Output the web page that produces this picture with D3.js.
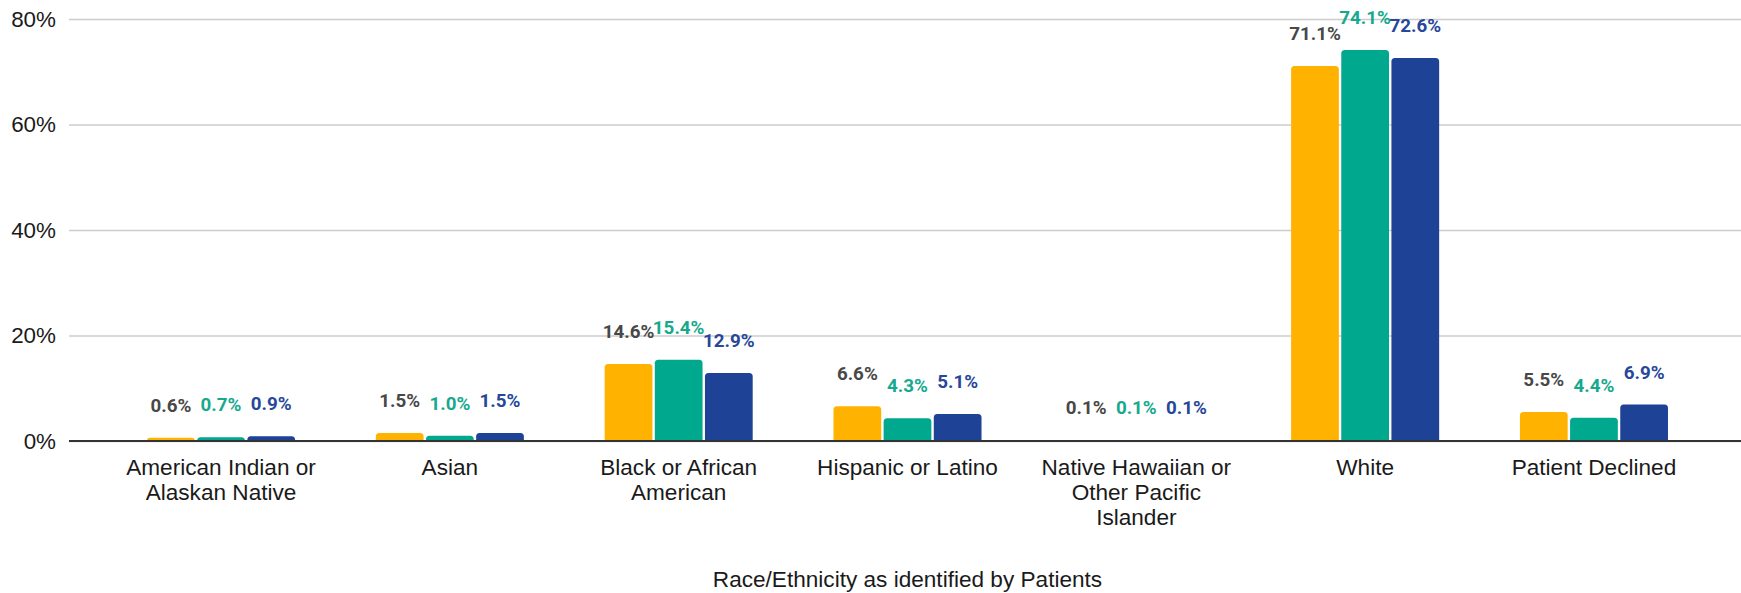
<!DOCTYPE html>
<html>
<head>
<meta charset="utf-8">
<script src="https://cdn.jsdelivr.net/npm/d3@7"></script>
<style>
  html, body { margin: 0; padding: 0; background: #ffffff; }
  svg { display: block; }
</style>
</head>
<body>
<svg id="chart" width="1741" height="593"></svg>
<script>
// Race/ethnicity share of patients, three series per category
const categories = [
  ["American Indian or", "Alaskan Native"],
  ["Asian"],
  ["Black or African", "American"],
  ["Hispanic or Latino"],
  ["Native Hawaiian or", "Other Pacific", "Islander"],
  ["White"],
  ["Patient Declined"]
];
const seriesA = [0.6, 1.5, 14.6, 6.6, 0.1, 71.1, 5.5];
const seriesB = [0.7, 1.0, 15.4, 4.3, 0.1, 74.1, 4.4];
const seriesC = [0.9, 1.5, 12.9, 5.1, 0.1, 72.6, 6.9];
const seriesKeys = ["a", "b", "c"];
const yTicks = [0, 20, 40, 60, 80];
const xAxisTitle = "Race/Ethnicity as identified by Patients";

const barColors = { a: "#ffb200", b: "#00a88e", c: "#1e4396" };
const labelColors = { a: "#484848", b: "#17a98e", c: "#27479a" };

const W = 1741, H = 593;
const plot = { left: 69, right: 1741, top: 19, bottom: 441 };

const svg = d3.select("#chart");

const rows = categories.map((c, i) => ({
  key: c.join(" "),
  lines: c,
  a: seriesA[i], b: seriesB[i], c: seriesC[i]
}));

// category bands sit slightly right of the gridline start
const x0 = d3.scaleBand()
  .domain(rows.map(d => d.key))
  .range([plot.left + 2.5, plot.right + 2.5])
  .paddingInner(0.353)
  .paddingOuter(0.33);

const x1 = d3.scaleBand()
  .domain(seriesKeys)
  .range([0, x0.bandwidth()])
  .paddingInner(0.048)
  .paddingOuter(0);

const y = d3.scaleLinear().domain([0, 80]).range([plot.bottom, plot.top]);

// gridlines and y tick labels
const yAxis = d3.axisLeft(y)
  .tickValues(yTicks)
  .tickFormat(d => d + "%")
  .tickSize(-(plot.right - plot.left))
  .tickPadding(13);

const gy = svg.append("g")
  .attr("transform", `translate(${plot.left},0)`)
  .call(yAxis);
gy.select(".domain").remove();
gy.selectAll(".tick line")
  .attr("stroke", "#cccccc")
  .attr("stroke-width", 1.6);
gy.selectAll(".tick text")
  .attr("font-family", "'Liberation Sans', Arial, sans-serif")
  .attr("font-size", 22.4)
  .attr("fill", "#1a1a1a");

// bars with rounded top corners
function topRoundedBar(x, yTop, w, h, r) {
  r = Math.min(r, h, w / 2);
  const yb = yTop + h;
  return `M${x},${yb}V${yTop + r}Q${x},${yTop} ${x + r},${yTop}` +
         `H${x + w - r}Q${x + w},${yTop} ${x + w},${yTop + r}V${yb}Z`;
}

const groups = svg.append("g").selectAll("g")
  .data(rows)
  .join("g")
  .attr("transform", d => `translate(${x0(d.key)},0)`);

groups.selectAll("path")
  .data(d => seriesKeys.map(k => ({ k, v: d[k] })))
  .join("path")
  .attr("fill", d => barColors[d.k])
  .attr("d", d => {
    const yt = y(d.v);
    return topRoundedBar(x1(d.k), yt, x1.bandwidth(), plot.bottom - yt, 3.5);
  });

// value labels
groups.selectAll("text.val")
  .data(d => seriesKeys.map(k => ({ k, v: d[k] })))
  .join("text")
  .attr("class", "val")
  .attr("x", d => x1(d.k) + x1.bandwidth() / 2)
  .attr("y", d => y(d.v) - 26)
  .attr("text-anchor", "middle")
  .attr("font-family", "Roboto, 'Open Sans', sans-serif")
  .attr("font-weight", 700)
  .attr("font-size", 18.8)
  .attr("fill", d => labelColors[d.k])
  .text(d => d.v.toFixed(1) + "%");

// zero baseline
svg.append("line")
  .attr("x1", plot.left).attr("x2", plot.right)
  .attr("y1", y(0)).attr("y2", y(0))
  .attr("stroke", "#333333")
  .attr("stroke-width", 1.8);

// category labels (wrapped onto lines)
const catLabels = svg.append("g").selectAll("text")
  .data(rows)
  .join("text")
  .attr("x", d => x0(d.key) + x0.bandwidth() / 2)
  .attr("y", plot.bottom + 34)
  .attr("text-anchor", "middle")
  .attr("font-family", "'Liberation Sans', Arial, sans-serif")
  .attr("font-size", 22.6)
  .attr("fill", "#1a1a1a");

catLabels.selectAll("tspan")
  .data(d => d.lines.map((t, i) => ({ t, i, x: x0(d.key) + x0.bandwidth() / 2 })))
  .join("tspan")
  .attr("x", d => d.x)
  .attr("dy", d => d.i === 0 ? 0 : 25)
  .text(d => d.t);

// axis title, centred under the category bands
const bandCentres = rows.map(d => x0(d.key) + x0.bandwidth() / 2);
svg.append("text")
  .attr("x", (bandCentres[0] + bandCentres[bandCentres.length - 1]) / 2)
  .attr("y", 587)
  .attr("text-anchor", "middle")
  .attr("font-family", "'Liberation Sans', Arial, sans-serif")
  .attr("font-size", 22.6)
  .attr("fill", "#1a1a1a")
  .text(xAxisTitle);
</script>
</body>
</html>
